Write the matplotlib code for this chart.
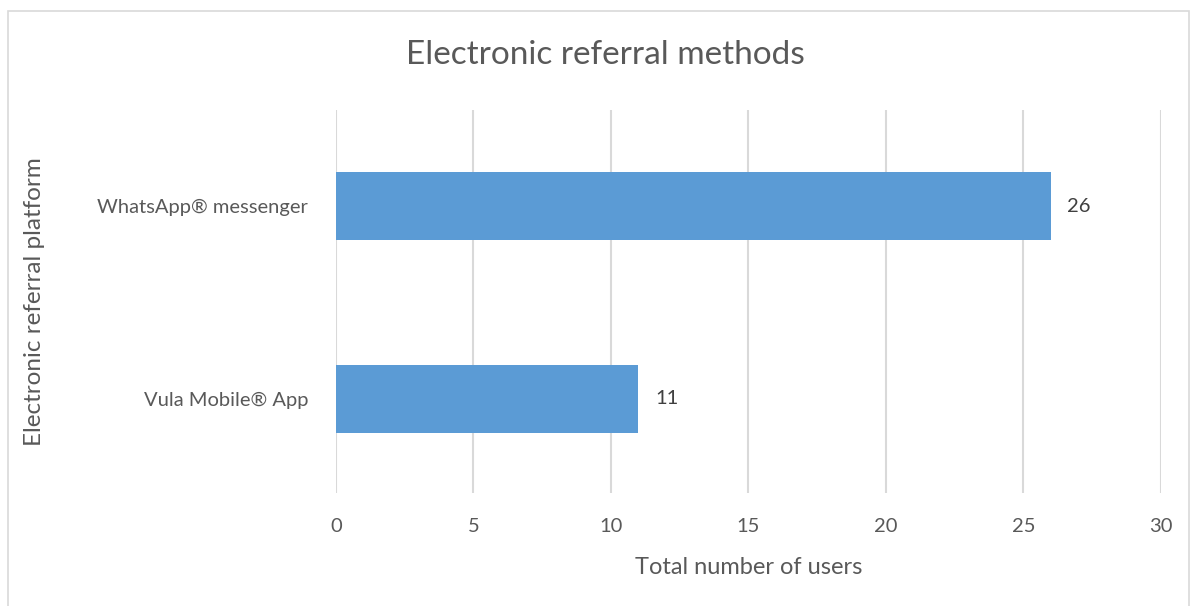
import matplotlib.pyplot as plt
from matplotlib.patches import Rectangle

plt.rcParams['font.family'] = ['Lato', 'DejaVu Sans']

platforms = ['Vula Mobile® App', 'WhatsApp® messenger']
users = [11, 26]
xticks = [0, 5, 10, 15, 20, 25, 30]

text_col = '#595959'

fig = plt.figure(figsize=(11.93, 6.06), dpi=100)
ax = fig.add_axes([0.2816, 0.1865, 0.6915, 0.632])

# Rahmen um das ganze Diagramm
fig.patches.append(Rectangle((8 / 1193, -0.01), 1181 / 1193, 0.992, transform=fig.transFigure,
                             fill=False, edgecolor='#D9D9D9', linewidth=1.2))

bars = ax.barh(range(len(platforms)), users, height=0.353, color='#5B9BD5', zorder=2)
for b, v in zip(bars, users):
    ax.text(v + 0.6, b.get_y() + b.get_height() / 2, str(v), va='center', ha='left',
            fontsize=14.5, color='#404040')

ax.set_xlim(0, 30)
ax.set_ylim(-0.49, 1.5)
ax.set_xticks(xticks)
ax.set_yticks(range(len(platforms)))
ax.set_yticklabels(platforms)
ax.grid(axis='x', color='#D9D9D9', linewidth=1.5, zorder=0)
for s in ax.spines.values():
    s.set_visible(False)
ax.tick_params(length=0, labelsize=14.5, colors=text_col)
ax.tick_params(axis='x', pad=18)
ax.tick_params(axis='y', pad=20)

fig.text(605 / 1193, 1 - 55 / 606, 'Electronic referral methods', fontsize=24, color=text_col,
         ha='center', va='center')
ax.set_xlabel('Total number of users', fontsize=17, color=text_col, labelpad=16)
ax.set_ylabel('Electronic referral platform', fontsize=17.5, color=text_col, labelpad=38)

plt.savefig('out.png')
